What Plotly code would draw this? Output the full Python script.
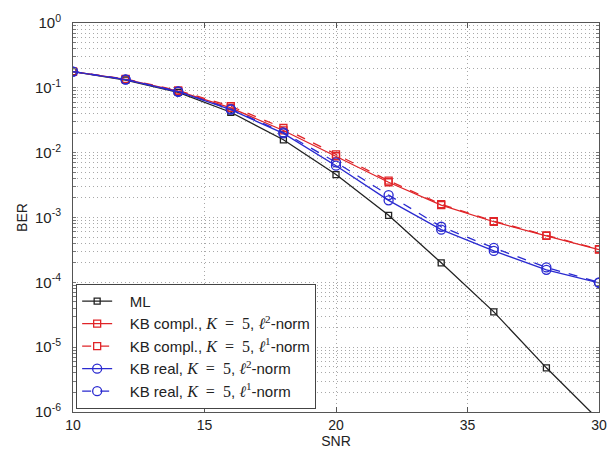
import plotly.graph_objects as go

snr = [10, 12, 14, 16, 18, 20, 22, 24, 26, 28, 30]
ber_ml = [0.178, 0.132, 0.085, 0.042, 0.0158, 0.0046, 0.00108, 2.0e-4, 3.5e-5, 4.8e-6, 7.5e-7]
ber_kbc_l2 = [0.178, 0.135, 0.089, 0.049, 0.022, 0.0088, 0.0035, 0.00155, 8.6e-4, 5.2e-4, 3.2e-4]
ber_kbc_l1 = [0.178, 0.137, 0.091, 0.052, 0.024, 0.0094, 0.0037, 0.0016, 8.8e-4, 5.3e-4, 3.25e-4]
ber_kbr_l2 = [0.178, 0.134, 0.087, 0.046, 0.0198, 0.0063, 0.00184, 6.5e-4, 3.05e-4, 1.56e-4, 9.8e-5]
ber_kbr_l1 = [0.178, 0.135, 0.088, 0.047, 0.0205, 0.0071, 0.00222, 7.2e-4, 3.4e-4, 1.7e-4, 1.0e-4]

serif = "Liberation Serif, DejaVu Serif, serif"
def math(s):
    return "<span style='font-family:%s;font-size:16px'>%s</span>" % (serif, s)

K5 = math("<i>K</i>&nbsp;&nbsp;=&nbsp;&nbsp;5")
lead = "&nbsp;&nbsp;&nbsp;"
names = [
    lead + "ML",
    lead + "KB compl., " + K5 + ", " + math("<i>ℓ</i><sup>2</sup>") + "-norm",
    lead + "KB compl., " + K5 + ", " + math("<i>ℓ</i><sup>1</sup>") + "-norm",
    lead + "KB real, " + K5 + ", " + math("<i>ℓ</i><sup>2</sup>") + "-norm",
    lead + "KB real, " + K5 + ", " + math("<i>ℓ</i><sup>1</sup>") + "-norm",
]
series = [ber_ml, ber_kbc_l2, ber_kbc_l1, ber_kbr_l2, ber_kbr_l1]
colors = ["#222222", "#e02428", "#e02428", "#2a2ad0", "#2a2ad0"]
dashes = ["solid", "solid", "dash", "solid", "dash"]
symbols = ["square-open", "square-open", "square-open", "circle-open", "circle-open"]
sizes = [6, 7, 7, 9, 9]

xtick_vals = [10, 15, 20, 25, 30]
xtick_text = ["10", "15", "20", "35", "30"]
decades = [0, -1, -2, -3, -4, -5, -6]
ytick_vals = []
ytick_text = []
for e in decades:
    ytick_vals.append(10.0 ** e)
    ytick_text.append("10<sup>%d</sup>" % e)
    if e > -6:
        for m in range(2, 10):
            ytick_vals.append(m * 10.0 ** (e - 1))
            ytick_text.append("")

fig = go.Figure()
for name, ys, c, d, s, sz in zip(names, series, colors, dashes, symbols, sizes):
    fig.add_trace(go.Scatter(
        x=snr, y=ys, name=name, mode="lines+markers",
        line=dict(color=c, width=1.3, dash=d),
        marker=dict(symbol=s, size=sz, color=c, line=dict(width=1.3, color=c)),
    ))

font = "Liberation Sans, Arial, sans-serif"
fig.update_layout(
    width=616, height=452,
    margin=dict(l=73, r=9, t=23, b=37),
    paper_bgcolor="white", plot_bgcolor="white",
    font=dict(family=font, size=13, color="#222"),
    showlegend=True,
    legend=dict(
        x=0.006, y=0.008, xanchor="left", yanchor="bottom",
        bgcolor="white", bordercolor="#444", borderwidth=1,
        font=dict(size=15, family=font, color="#222"),
        tracegroupgap=0, itemwidth=30,
    ),
    xaxis=dict(
        range=[10, 30], tickvals=xtick_vals, ticktext=xtick_text,
        showgrid=True, gridcolor="#a8a8a8", griddash="1px,3px", gridwidth=1,
        showline=True, linecolor="#555", linewidth=1, mirror="ticks",
        ticks="inside", ticklen=5, tickcolor="#555",
        tickfont=dict(size=14, family=font, color="#222"),
        title=dict(text="SNR", font=dict(size=14, family=font, color="#222"), standoff=0),
        zeroline=False,
    ),
    yaxis=dict(
        type="log", range=[-6, 0], tickvals=ytick_vals, ticktext=ytick_text,
        showgrid=True, gridcolor="#a8a8a8", griddash="1px,3px", gridwidth=1,
        showline=True, linecolor="#555", linewidth=1, mirror="ticks",
        ticks="inside", ticklen=3, tickcolor="#777",
        tickfont=dict(size=15, family=font, color="#222"),
        ticklabelstandoff=8,
        title=dict(text="BER", font=dict(size=14, family=font, color="#222"), standoff=4),
        zeroline=False,
    ),
)

fig.write_html("out.html", config={"displayModeBar": False},
               post_script="document.body.style.margin='0';document.body.style.overflow='hidden';")
